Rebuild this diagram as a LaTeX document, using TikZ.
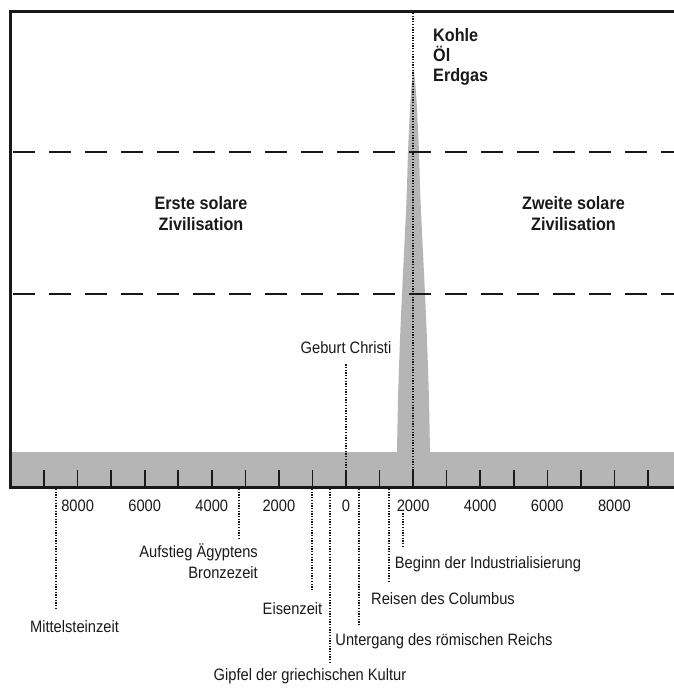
\documentclass[tikz,border=0pt]{standalone}
\usepackage{fontspec}
\setmainfont{Liberation Sans}
\newfontfamily\labelfont[FakeStretch=0.89]{Liberation Sans}
\newfontfamily\titlefont[FakeStretch=0.9]{Liberation Sans}
\definecolor{bandgray}{gray}{0.71}
\definecolor{ink}{gray}{0.1}

\tikzset{
  event/.style={draw=ink, line width=1.5pt, dash pattern=on 1.3pt off 1.4pt},
  datelabel/.style={font=\labelfont\fontsize{16.5}{21}\selectfont, inner sep=0pt, text=ink},
  boldlabel/.style={font=\titlefont\bfseries\fontsize{18}{21.5}\selectfont, inner sep=0pt, text=ink, align=center},
  limit/.style={draw=ink, line width=1.8pt, dash pattern=on 22pt off 14pt},
}

\begin{document}
\begin{tikzpicture}[x=1pt, y=-1pt]
 \begin{scope}
 \useasboundingbox (0,0) rectangle (674,688);
 \fill[bandgray] (10,452) rectangle (674,487); % la bande grise
 \fill[bandgray] plot[smooth] coordinates {(397,453) (398,400) (400,340) (402,294) (406.5,200) (408,152) (410.5,100) (413.5,70) (416.5,100) (419,152) (420.5,200) (425,294) (427,340) (429,400) (430,453)} -- cycle; % le pic fossile

 \draw[limit] (13,152) -- (674,152); % limite haute
 \draw[limit] (13,294) -- (674,294); % limite basse

 \draw[ink, line width=2.8pt] (674,11.7) -- (10.7,11.7) -- (10.7,487.3) -- (674,487.3); % le cadre et l'axe

% graduation tous les 1000 ans
\foreach \i in {-9,...,9}{
    \draw[ink, line width=1.6pt] ({346+33.55*(\i)},470) -- ({346+33.55*(\i)},487);
}
\foreach \i/\t in {-8/8000,-6/6000,-4/4000,-2/2000,0/0,2/2000,4/4000,6/6000,8/8000}{
    \node[datelabel, anchor=base] (jahr\i) at ({346+33.55*(\i)},511) {\t};
}

 \node[boldlabel] (erste) at (201,213.5) {Erste solare\\Zivilisation};
 \node[boldlabel] (zweite) at (573.5,213.5) {Zweite solare\\Zivilisation};
 \node[boldlabel, align=left, anchor=north west, font=\titlefont\bfseries\fontsize{18}{20}\selectfont] (fossil) at (433,28.5) {Kohle\\Öl\\Erdgas};

 \coordinate (oben) at (413,13);
 \coordinate (a-2000) at (413,487);
 \draw[event] (oben) -- (a-2000); % axe du pic

 \node[datelabel, anchor=base] (geburt) at (346,353) {Geburt Christi};
 \node[datelabel, anchor=base] (mittel) at (74.5,632.5) {Mittelsteinzeit};
 \node[datelabel, align=right, anchor=north east] (aegypten) at (258,543) {Aufstieg Ägyptens\\Bronzezeit};
 \node[datelabel, anchor=base] (eisen) at (292.5,614) {Eisenzeit};
 \node[datelabel, anchor=base] (gipfel) at (310,680.5) {Gipfel der griechischen Kultur};
 \node[datelabel, anchor=base] (untergang) at (444,645.5) {Untergang des römischen Reichs};
 \node[datelabel, anchor=base] (columbus) at (443,604.5) {Reisen des Columbus};
 \node[datelabel, anchor=base] (industrie) at (488,568.5) {Beginn der Industrialisierung};

 \coordinate (a-geburt) at (346,487);
 \coordinate (a-mittel) at (56,489);
 \coordinate (a-aegypten) at (239,489);
 \coordinate (a-eisen) at (312,489);
 \coordinate (a-gipfel) at (330,489);
 \coordinate (a-untergang) at (359,489);
 \coordinate (a-columbus) at (389,489);
 \coordinate (a-industrie) at (403,489);

 \draw[event, shorten <=11pt] (a-geburt |- geburt.south) -- (a-geburt);
 \draw[event, shorten >=11pt] (a-mittel) -- (a-mittel |- mittel.north);
 \draw[event, shorten >=3pt] (a-aegypten) -- (a-aegypten |- aegypten.north);
 \draw[event, shorten >=11pt] (a-eisen) -- (a-eisen |- eisen.north);
 \draw[event, shorten >=5pt] (a-gipfel) -- (a-gipfel |- gipfel.north);
 \draw[event, shorten >=7pt] (a-untergang) -- (a-untergang |- untergang.north);
 \draw[event, shorten >=11pt] (a-columbus) -- (a-columbus |- columbus.north);
 \draw[event, shorten <=2pt, shorten >=10pt] (a-industrie |- jahr2.south) -- (a-industrie |- industrie.north);
 \end{scope}
\end{tikzpicture}
\end{document}
